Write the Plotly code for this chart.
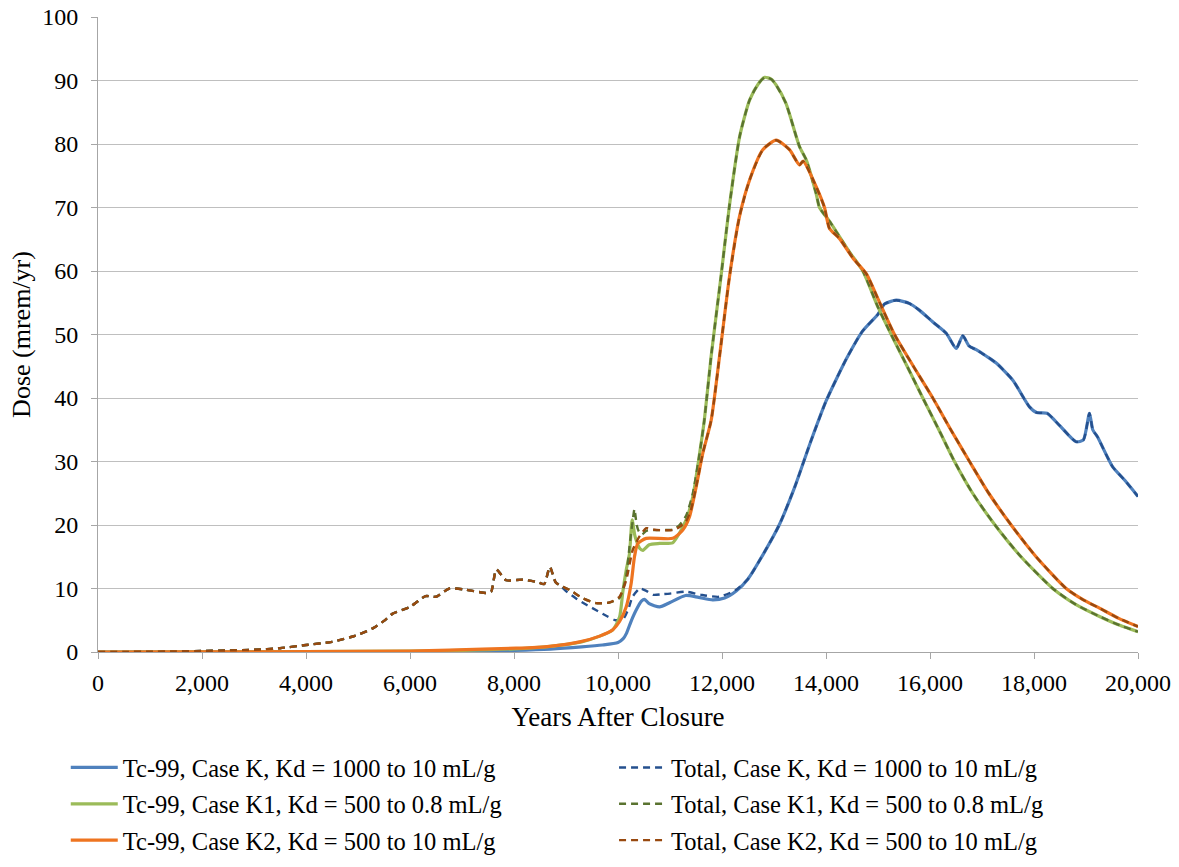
import plotly.graph_objects as go

# ---- data ----
tc_k_years = [0, 4000, 6000, 7000, 8000, 8700, 9300, 9700, 10000, 10100, 10160, 10250, 10350, 10450,
              10510, 10600, 10800, 11000, 11300, 11550, 11820, 12050, 12273, 12500, 12800, 13100,
              13400, 13700, 14000, 14200, 14400, 14700, 15000, 15125, 15350, 15600, 15800, 16050,
              16312, 16504, 16631, 16750, 16888, 17100, 17273, 17593, 17913, 18050, 18250, 18500,
              18810, 18950, 19067, 19130, 19220, 19510, 19750, 20000]
tc_k_dose = [0, 0.02, 0.05, 0.1, 0.25, 0.45, 0.8, 1.1, 1.5, 2.1, 2.9, 4.8, 6.6, 8.0,
             8.3, 7.6, 7.1, 7.8, 8.9, 8.6, 8.2, 8.5, 9.6, 11.5, 15.5, 20.0,
             26.0, 33.0, 39.5, 43.0, 46.3, 50.5, 53.2, 54.8, 55.4, 54.9, 53.8, 52.0,
             50.2, 47.8, 49.8, 48.2, 47.6, 46.5, 45.5, 42.8, 38.6, 37.7, 37.6, 35.6,
             33.1, 33.4, 37.6, 35.0, 33.9, 29.2, 27.0, 24.5]

total_k_years = [0, 500, 1000, 1500, 2000, 2500, 3000, 3500, 4000, 4500, 5000, 5300, 5500, 5660,
                 6000, 6300, 6500, 6760, 7080, 7460, 7560, 7660, 7850, 8170, 8450, 8580, 8690,
                 8800, 8900, 9000, 9200, 9400, 9600, 9800, 9950, 10100, 10200, 10280, 10420,
                 10550, 10680, 10850, 11000, 11300, 11600, 11950, 12273, 12500, 12800, 13100,
                 13400, 13700, 14000, 14200, 14400, 14700, 15000, 15125, 15350, 15600, 15800,
                 16050, 16312, 16504, 16631, 16750, 16888, 17100, 17273, 17593, 17913, 18050,
                 18250, 18500, 18810, 18950, 19067, 19130, 19220, 19510, 19750, 20000]
total_k_dose = [0, 0.02, 0.05, 0.1, 0.15, 0.25, 0.35, 0.6, 1.1, 1.6, 2.7, 3.8, 4.9, 6.0,
                7.1, 8.8, 8.7, 10.0, 9.8, 9.3, 9.5, 13.0, 11.3, 11.4, 11.0, 10.7, 13.4,
                11.0, 10.4, 9.6, 8.4, 7.4, 6.5, 5.6, 5.0, 5.2, 6.8, 8.7, 10.0,
                9.6, 9.0, 9.1, 9.2, 9.5, 9.0, 8.7, 9.8, 11.5, 15.5, 20.0,
                26.0, 33.0, 39.5, 43.0, 46.3, 50.5, 53.2, 54.8, 55.4, 54.9, 53.8,
                52.0, 50.2, 47.8, 49.8, 48.2, 47.6, 46.5, 45.5, 42.8, 38.6, 37.7,
                37.6, 35.6, 33.1, 33.4, 37.6, 35.0, 33.9, 29.2, 27.0, 24.5]

tc_k1_years = [0, 2000, 4000, 6000, 7000, 8000, 8700, 9300, 9650, 9900, 10030, 10093, 10160, 10221,
               10272, 10320, 10350, 10420, 10480, 10600, 10800, 11050, 11180, 11310, 11440, 11570,
               11660, 11790, 11980, 12140, 12340, 12530, 12700, 12820, 12950, 13040, 13230, 13490,
               13620, 13810, 13875, 14070, 14450, 14708, 15000, 15253, 15560, 15862, 16170, 16471,
               16820, 17250, 17750, 18361, 18800, 19260, 19650, 20000]
tc_k1_dose = [0, 0.02, 0.05, 0.15, 0.25, 0.5, 0.9, 1.6, 2.5, 3.5, 5.5, 9.5, 13.0, 15.5,
              20.8, 18.5, 17.6, 16.3, 16.0, 16.9, 17.1, 17.2, 18.7, 20.8, 24.5, 31.3,
              36.5, 46.5, 59.1, 70.1, 81.2, 86.9, 89.5, 90.5, 90.2, 89.3, 86.4, 79.6,
              77.5, 72.2, 70.0, 67.8, 63.0, 60.0, 54.3, 50.0, 45.0, 40.0, 35.0, 30.0,
              25.0, 20.0, 15.0, 10.0, 7.5, 5.6, 4.2, 3.2]

total_k1_years = [0, 500, 1000, 1500, 2000, 2500, 3000, 3500, 4000, 4500, 5000, 5300, 5500, 5660,
                  6000, 6300, 6500, 6760, 7080, 7460, 7560, 7660, 7850, 8170, 8450, 8580, 8690,
                  8800, 8900, 9067, 9318, 9580, 9837, 10029, 10157, 10221, 10285, 10317, 10360,
                  10400, 10460, 10550, 10800, 11054, 11183, 11311, 11439, 11570,
                  11660, 11790, 11980, 12140, 12340, 12530, 12700, 12820, 12950, 13040, 13230, 13490,
                  13620, 13810, 13875, 14070, 14450, 14708, 15000, 15253, 15560, 15862, 16170, 16471,
                  16820, 17250, 17750, 18361, 18800, 19260, 19650, 20000]
total_k1_dose = [0, 0.02, 0.05, 0.1, 0.15, 0.25, 0.35, 0.6, 1.1, 1.6, 2.7, 3.8, 4.9, 6.0,
                 7.1, 8.8, 8.7, 10.0, 9.8, 9.3, 9.5, 13.0, 11.3, 11.4, 11.0, 10.7, 13.4,
                 11.0, 10.4, 9.8, 8.5, 7.7, 7.8, 8.5, 11.9, 16.6, 20.8, 22.5, 20.0,
                 19.0, 18.5, 19.1, 19.2, 19.3, 20.0, 21.5, 25.0, 31.3,
                 36.5, 46.5, 59.1, 70.1, 81.2, 86.9, 89.5, 90.5, 90.2, 89.3, 86.4, 79.6,
                 77.5, 72.2, 70.0, 67.8, 63.0, 60.0, 54.3, 50.0, 45.0, 40.0, 35.0, 30.0,
                 25.0, 20.0, 15.0, 10.0, 7.5, 5.6, 4.2, 3.2]

tc_k2_years = [0, 2000, 4000, 6000, 6760, 8040, 8680, 9262, 9647, 9900, 10030, 10157, 10253, 10317,
               10381, 10542, 11054, 11246, 11375, 11503, 11631, 11792, 11952, 12144, 12337, 12529,
               12785, 13042, 13298, 13490, 13560, 13811, 13971, 14067, 14260, 14520, 14780, 15000,
               15317, 15680, 16054, 16400, 16760, 17130, 17561, 18040, 18619, 18950, 19260, 19630,
               20000]
tc_k2_dose = [0, 0.02, 0.05, 0.15, 0.3, 0.6, 0.9, 1.6, 2.5, 3.5, 4.8, 7.1, 10.8, 15.0,
              17.1, 17.9, 17.9, 19.2, 21.3, 26.0, 31.3, 36.5, 46.5, 59.1, 68.6, 74.3,
              79.1, 80.6, 79.1, 76.7, 77.3, 73.3, 70.0, 66.7, 65.1, 62.0, 59.5, 55.6,
              50.0, 45.0, 40.0, 35.0, 30.0, 25.0, 20.0, 15.0, 10.0, 8.2, 6.9, 5.3,
              4.0]

total_k2_years = [0, 500, 1000, 1500, 2000, 2500, 3000, 3500, 4000, 4500, 5000, 5300, 5500, 5660,
                  6000, 6300, 6500, 6760, 7080, 7460, 7560, 7660, 7850, 8170, 8450, 8580, 8690,
                  8800, 8900, 9067, 9318, 9580, 9837, 10029, 10157, 10285, 10413, 10542, 10670,
                  10800, 11054, 11183, 11300, 11400, 11503, 11631, 11792, 11952, 12144, 12337, 12529,
                  12785, 13042, 13298, 13490, 13560, 13811, 13971, 14067, 14260, 14520, 14780, 15000,
                  15317, 15680, 16054, 16400, 16760, 17130, 17561, 18040, 18619, 18950, 19260, 19630,
                  20000]
total_k2_dose = [0, 0.02, 0.05, 0.1, 0.15, 0.25, 0.35, 0.6, 1.1, 1.6, 2.7, 3.8, 4.9, 6.0,
                 7.1, 8.8, 8.7, 10.0, 9.8, 9.3, 9.5, 13.0, 11.3, 11.4, 11.0, 10.7, 13.4,
                 11.0, 10.4, 9.8, 8.5, 7.7, 7.8, 8.7, 11.3, 16.1, 18.2, 19.5, 19.3,
                 19.2, 19.2, 19.7, 20.5, 22.3, 26.0, 31.3, 36.5, 46.5, 59.1, 68.6, 74.3,
                 79.1, 80.6, 79.1, 76.7, 77.3, 73.3, 70.0, 66.7, 65.1, 62.0, 59.5, 55.6,
                 50.0, 45.0, 40.0, 35.0, 30.0, 25.0, 20.0, 15.0, 10.0, 8.2, 6.9, 5.3,
                 4.0]

x_ticks = [0, 2000, 4000, 6000, 8000, 10000, 12000, 14000, 16000, 18000, 20000]
x_tick_labels = ["0", "2,000", "4,000", "6,000", "8,000", "10,000", "12,000", "14,000",
                 "16,000", "18,000", "20,000"]
y_ticks = [0, 10, 20, 30, 40, 50, 60, 70, 80, 90, 100]

series = [
    ("Tc-99, Case K, Kd = 1000 to 10 mL/g", tc_k_years, tc_k_dose, "#4F81BD", None, 3.2, "legend"),
    ("Total, Case K, Kd = 1000 to 10 mL/g", total_k_years, total_k_dose, "#25508E", "7px,5px", 2.4, "legend2"),
    ("Tc-99, Case K1, Kd = 500 to 0.8 mL/g", tc_k1_years, tc_k1_dose, "#9BBB59", None, 3.2, "legend"),
    ("Total, Case K1, Kd = 500 to 0.8 mL/g", total_k1_years, total_k1_dose, "#5A7330", "7px,5px", 2.4, "legend2"),
    ("Tc-99, Case K2, Kd = 500 to 10 mL/g", tc_k2_years, tc_k2_dose, "#EE7420", None, 3.2, "legend"),
    ("Total, Case K2, Kd = 500 to 10 mL/g", total_k2_years, total_k2_dose, "#98490F", "7px,5px", 2.4, "legend2"),
]

FONT = "Liberation Serif"

fig = go.Figure()
for i, (name, xs, ys, color, dash, width, leg) in enumerate(series):
    line = dict(color=color, width=width, shape="spline", smoothing=0.6)
    if dash:
        line["dash"] = dash
    fig.add_trace(go.Scatter(x=xs, y=ys, mode="lines", name=name, line=line,
                             legend=leg, legendgroup=f"g{i}"))

legend_common = dict(orientation="v", font=dict(family=FONT, size=24.5, color="#000000"),
                     bgcolor="rgba(0,0,0,0)", itemwidth=47, tracegroupgap=1.5,
                     yanchor="top", xanchor="left", y=-0.1465)

fig.update_layout(
    width=1179, height=867,
    margin=dict(l=98, r=41, t=17, b=215, autoexpand=False),
    paper_bgcolor="white", plot_bgcolor="white",
    font=dict(family=FONT, size=24, color="#000000"),
    showlegend=True,
    legend=dict(legend_common, x=-0.031),
    legend2=dict(legend_common, x=0.4962),
    xaxis=dict(
        range=[0, 20000], tickvals=x_ticks, ticktext=x_tick_labels,
        automargin=False,
        showgrid=False, zeroline=False,
        showline=True, linecolor="#A6A6A6", linewidth=1,
        ticks="outside", ticklen=6, tickcolor="#A6A6A6",
        tickfont=dict(family=FONT, size=24, color="#000000"),
        ticklabelstandoff=3,
        title=dict(text="Years After Closure", font=dict(family=FONT, size=27, color="#000000"),
                   standoff=12),
    ),
    yaxis=dict(
        range=[0, 100], tickvals=y_ticks,
        automargin=False,
        showgrid=True, gridcolor="#BFBFBF", gridwidth=1, zeroline=False,
        showline=True, linecolor="#A6A6A6", linewidth=1,
        ticks="outside", ticklen=6, tickcolor="#A6A6A6",
        tickfont=dict(family=FONT, size=24, color="#000000"),
        ticklabelstandoff=8,
        title=dict(text="Dose (mrem/yr)", font=dict(family=FONT, size=26, color="#000000"),
                   standoff=4),
    ),
)

fig.write_html("out.html")
